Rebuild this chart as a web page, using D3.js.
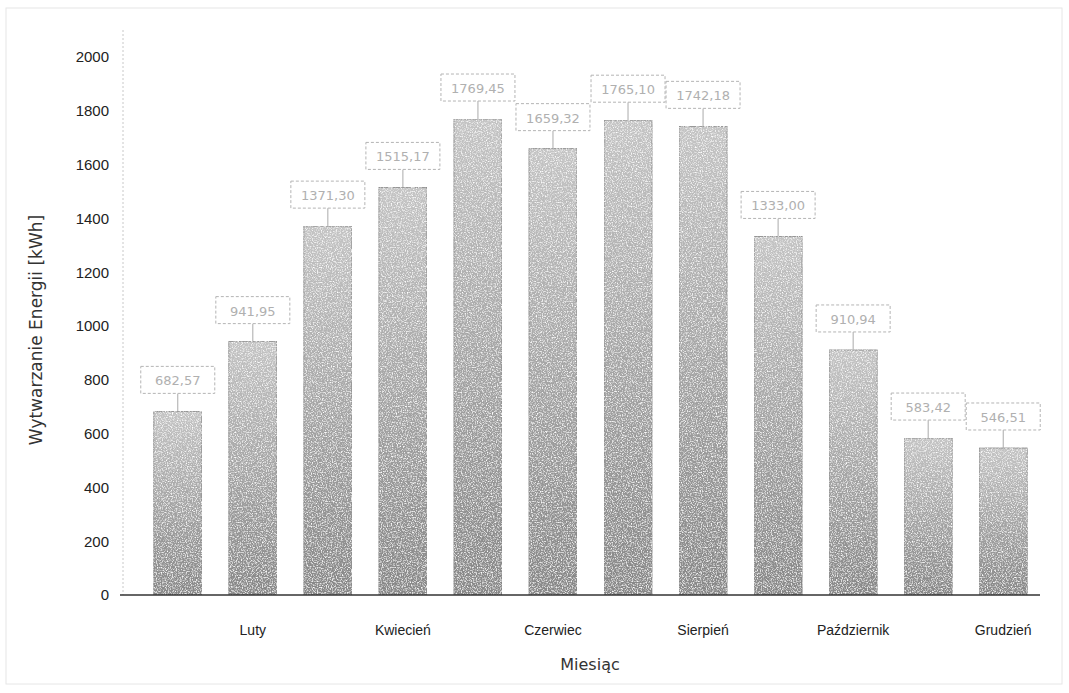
<!DOCTYPE html>
<html>
<head>
<meta charset="utf-8">
<script src="https://cdn.jsdelivr.net/npm/d3@7"></script>
<style>
body{margin:0;background:#fff;}
svg{display:block;font-family:"DejaVu Sans",Verdana,sans-serif;}
</style>
</head>
<body>
<div id="chartwrap"></div>
<script>
// monthly energy output, kWh
var months = ["Styczeń","Luty","Marzec","Kwiecień","Maj","Czerwiec","Lipiec","Sierpień","Wrzesień","Październik","Listopad","Grudzień"];
var values = [682.57, 941.95, 1371.3, 1515.17, 1769.45, 1659.32, 1765.1, 1742.18, 1333.0, 910.94, 583.42, 546.51];
var yTicks = [0,200,400,600,800,1000,1200,1400,1600,1800,2000];
var shownMonths = ["Luty","Kwiecień","Czerwiec","Sierpień","Październik","Grudzień"];

var chart = {};
chart.width = 1069;
chart.height = 693;
chart.svg = d3.select("#chartwrap").append("svg").attr("width",chart.width).attr("height",chart.height);

var defs = chart.svg.append("defs");
var grad = defs.append("linearGradient").attr("id","bargrad").attr("x1",0).attr("y1",0).attr("x2",0).attr("y2",1);
grad.append("stop").attr("offset","0%").attr("stop-color","#c4c4c4");
grad.append("stop").attr("offset","100%").attr("stop-color","#878787");

//grainy look of the scan
var f = defs.append("filter").attr("id","grain").attr("x",0).attr("y",0).attr("width","100%").attr("height","100%");
f.append("feTurbulence").attr("type","fractalNoise").attr("baseFrequency",0.8).attr("numOctaves",2).attr("seed",3).attr("result","noise");
f.append("feColorMatrix").attr("in","noise").attr("type","matrix")
	.attr("values","0 0 0 0 1  0 0 0 0 1  0 0 0 0 1  0 0 0 -2.6 1.4").attr("result","spots");
f.append("feComposite").attr("in","spots").attr("in2","SourceGraphic").attr("operator","in").attr("result","clipped");
f.append("feMerge").call(function(m){
	m.append("feMergeNode").attr("in","SourceGraphic");
	m.append("feMergeNode").attr("in","clipped");
});

//faint frame of the scanned page
chart.svg.append("rect").attr("x",6).attr("y",8).attr("width",1056).attr("height",676)
	.attr("fill","none").attr("stroke","#e6e6e6").attr("stroke-width",1);

var x = d3.scaleBand().domain(months).range([132,1049]).paddingInner(0.36).paddingOuter(0.29);
var y = d3.scaleLinear().domain([0,2000]).range([595,57]);

//y axis
var yAxis = chart.svg.append("g").attr("transform","translate(123,0)")
	.call(d3.axisLeft(y).tickValues(yTicks).tickSize(0).tickPadding(14).tickFormat(d3.format("d")));
yAxis.select(".domain").attr("stroke","#c8c8c8").attr("stroke-dasharray","2,2").attr("d","M0,30V595");
yAxis.selectAll("text").attr("fill","#222").style("font-size","15px");

//bars
var bars = chart.svg.append("g").selectAll("rect.bar").data(values);
bars.enter().append("rect").classed("bar",true)
	.attr("x",function(d,i){return x(months[i])})
	.attr("y",function(d){return y(d)})
	.attr("width",x.bandwidth())
	.attr("height",function(d){return y(0)-y(d)})
	.attr("fill","url(#bargrad)")
	.attr("stroke","#858585").attr("stroke-width",0.8)
	.attr("filter","url(#grain)");

//x axis
var xAxis = chart.svg.append("g").attr("transform","translate(0,595)")
	.call(d3.axisBottom(x).tickSize(0).tickPadding(30)
		.tickFormat(function(d){return shownMonths.indexOf(d)>=0 ? d : ""}));
xAxis.select(".domain").attr("stroke","#333").attr("stroke-width",1.5).attr("d","M120,0H1040");
xAxis.selectAll("text").attr("fill","#222").style("font-size","14px");

//value labels with leader line
var fmt = function(v){return v.toFixed(2).replace(".",",")};
var labels = chart.svg.append("g").selectAll("g.lbl").data(values).enter().append("g").classed("lbl",true)
	.attr("transform",function(d,i){return "translate("+(x(months[i])+x.bandwidth()/2)+","+y(d)+")"});
labels.append("line").attr("x1",0).attr("x2",0).attr("y1",0).attr("y2",-18)
	.attr("stroke","#aaa").attr("stroke-width",1);
labels.append("rect").attr("x",-37).attr("y",-45).attr("width",74).attr("height",27)
	.attr("fill","#fff").attr("stroke","#b4b4b4").attr("stroke-dasharray","3,2");
labels.append("text").attr("x",0).attr("y",-26).attr("text-anchor","middle")
	.attr("fill","#b0b0b0").style("font-size","13px").text(fmt);

//axis titles
chart.svg.append("text").attr("x",590).attr("y",670).attr("text-anchor","middle")
	.attr("fill","#333").style("font-size","16px").text("Miesiąc");
chart.svg.append("text").attr("transform","translate(42,330) rotate(-90)").attr("text-anchor","middle")
	.attr("fill","#333").style("font-size","17px").text("Wytwarzanie Energii [kWh]");
</script>
</body>
</html>
